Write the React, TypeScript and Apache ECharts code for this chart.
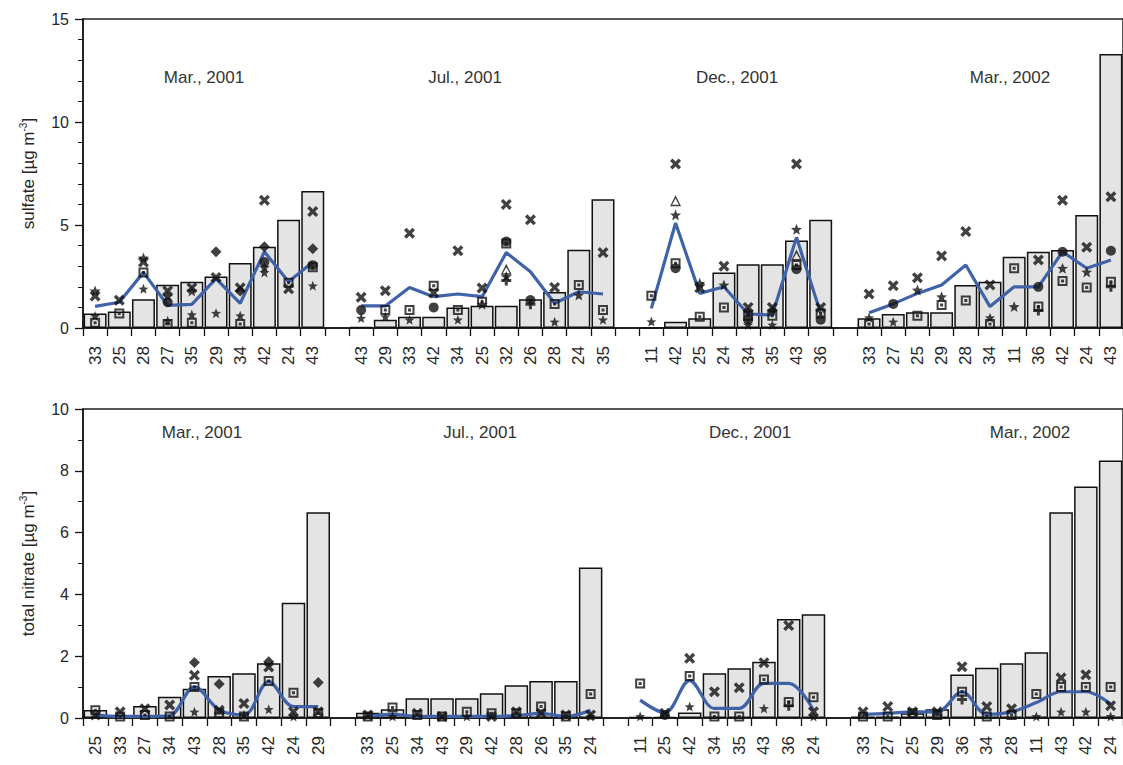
import React, { useEffect, useRef } from 'react';
import * as echarts from 'echarts';

const _ = null;

// Sampling periods (one block of sites per period)
const periods = ['Mar., 2001', 'Jul., 2001', 'Dec., 2001', 'Mar., 2002'];

// ---------------- sulfate ----------------
const sulfateSites = [
  [33, 25, 28, 27, 35, 29, 34, 42, 24, 43],
  [43, 29, 33, 42, 34, 25, 32, 26, 28, 24, 35],
  [11, 42, 25, 24, 34, 35, 43, 36],
  [33, 27, 25, 29, 28, 34, 11, 36, 42, 24, 43],
];
const sulfateObserved = [
  [0.7, 0.8, 1.4, 2.1, 2.25, 2.5, 3.15, 3.95, 5.25, 6.65],
  [0.05, 0.4, 0.55, 0.55, 1.0, 1.08, 1.08, 1.4, 1.75, 3.8, 6.25],
  [0, 0.3, 0.47, 2.7, 3.1, 3.1, 4.25, 5.25],
  [0.47, 0.68, 0.76, 0.76, 2.09, 2.25, 3.46, 3.7, 3.79, 5.49, 13.3],
];
const sulfateMean = [
  [1.05, 1.25, 2.7, 1.1, 1.15, 2.4, 1.2, 3.7, 2.25, 3.2],
  [1.07, 1.07, 1.97, 1.52, 1.65, 1.52, 3.66, 2.73, 1.2, 1.76, 1.65],
  [0.95, 5.1, 1.68, 2.0, 0.68, 0.63, 4.4, 0.71],
  [0.74, 1.17, 1.68, 2.09, 3.06, 1.04, 2.0, 2.0, 3.7, 2.9, 3.3],
];
const sulfateCross = [
  [1.55, 1.35, 3.2, 1.8, 1.95, 2.45, 1.95, 6.2, 1.9, 5.65],
  [1.49, 1.81, 4.6, 1.7, 3.75, 1.94, 6.0, 5.25, 1.97, _, 3.66],
  [_, 7.96, 1.95, 3.0, 1.0, 1.0, 7.96, 1.0],
  [1.65, 2.05, 2.44, 3.5, 4.68, 2.09, _, 3.3, 6.2, 3.92, 6.37],
];
const sulfateStar = [
  [1.8, _, 3.4, 1.55, 1.8, _, _, 2.95, _, _],
  [_, _, _, _, _, 1.15, 2.5, _, _, 1.6, _],
  [_, 5.49, 2.17, 2.09, 0.8, 0.85, 4.79, _],
  [_, _, 1.84, 1.52, _, _, 1.04, _, 2.9, 2.72, _],
];
const sulfateStarLow = [
  [0.58, _, 1.9, 0.35, 0.65, 0.72, 0.6, 2.7, _, 2.05],
  [0.48, 0.55, 0.4, _, 0.4, _, _, _, 0.3, _, 0.4],
  [0.31, _, _, _, 0.15, 0.15, _, _],
  [0.5, 0.3, _, _, _, 0.5, _, _, _, _, _],
];
const sulfateCircle = [
  [_, _, _, 1.25, _, _, _, 3.2, _, 3.05],
  [0.87, _, _, 1.0, _, _, 4.2, 1.36, _, _, _],
  [_, 2.9, _, _, 0.4, _, 2.85, 0.4],
  [_, 1.17, _, _, _, _, _, 2.0, 3.7, _, 3.75],
];
const sulfateDiamond = [
  [_, _, _, _, _, 3.7, 1.8, 3.95, _, 3.85],
  [_, _, _, _, _, _, _, _, _, _, _],
  [_, _, _, _, _, _, _, _],
  [_, _, _, _, _, _, _, _, _, _, _],
];
const sulfateSquareDot = [
  [0.25, 0.7, 2.7, 0.2, 0.25, _, 0.2, _, 2.2, 2.95],
  [_, 0.87, 0.87, 2.05, 0.87, 1.28, 4.1, _, 1.17, 2.09, 0.87],
  [1.57, 3.14, 0.55, 0.99, 0.6, 0.6, 3.06, 0.7],
  [0.2, _, 0.6, 1.12, 1.33, 0.2, 2.9, 1.04, 2.28, 1.97, 2.25],
];
const sulfateTriangle = [
  [_, _, _, _, _, _, _, _, _, _],
  [_, _, _, _, _, _, 2.85, _, _, _, _],
  [_, 6.18, _, _, _, _, 3.54, _],
  [_, _, _, _, _, _, _, _, _, _, _],
];
const sulfatePlus = [
  [_, _, _, _, _, _, _, _, _, _],
  [_, _, _, _, _, _, 2.3, 1.15, _, _, _],
  [_, _, _, _, _, _, _, _],
  [_, _, _, _, _, _, _, 0.85, _, _, 2.0],
];

// ---------------- total nitrate ----------------
const nitrateSites = [
  [25, 33, 27, 34, 43, 28, 35, 42, 24, 29],
  [33, 25, 34, 43, 29, 42, 28, 26, 35, 24],
  [11, 25, 42, 34, 35, 43, 36, 24],
  [33, 27, 25, 29, 36, 34, 28, 11, 43, 42, 24],
];
const nitrateObserved = [
  [0.26, 0.05, 0.39, 0.69, 0.95, 1.36, 1.45, 1.77, 3.73, 6.66],
  [0.17, 0.28, 0.64, 0.64, 0.64, 0.8, 1.06, 1.2, 1.2, 4.87],
  [0.03, 0.03, 0.18, 1.45, 1.61, 1.82, 3.2, 3.36],
  [0.05, 0.05, 0.15, 0.28, 1.41, 1.63, 1.77, 2.13, 6.66, 7.49, 8.33],
];
const nitrateMean = [
  [0.1, 0.05, 0.05, 0.08, 1.01, 0.26, 0.1, 1.18, 0.37, 0.37],
  [0.05, 0.12, 0.05, 0.05, 0.05, 0.05, 0.08, 0.15, 0.05, 0.25],
  [0.58, 0.17, 1.21, 0.31, 0.31, 1.12, 1.12, 0.26],
  [0.12, 0.15, 0.2, 0.2, 0.85, 0.12, 0.2, 0.5, 0.85, 0.85, 0.45],
];
const nitrateCross = [
  [0.1, 0.2, 0.3, 0.42, 1.38, 0.25, 0.47, 1.65, 0.2, 0.2],
  [0.1, _, 0.15, 0.05, _, 0.05, 0.2, 0.15, 0.1, 0.1],
  [_, 0.15, 1.93, 0.85, 0.98, 1.79, 2.99, 0.2],
  [0.2, 0.37, 0.2, 0.2, 1.66, 0.37, 0.3, _, 1.3, 1.4, 0.4],
];
const nitrateStarLow = [
  [_, _, _, _, 0.2, _, 0.1, 0.28, 0.05, _],
  [_, 0.05, _, _, 0.05, _, _, _, _, 0.05],
  [0.05, _, 0.37, _, _, 0.31, _, 0.05],
  [_, _, _, _, _, _, _, 0.05, 0.2, 0.2, 0.05],
];
const nitrateCircle = [
  [_, _, _, _, _, _, _, _, _, _],
  [_, _, _, _, _, _, _, _, _, _],
  [_, 0.1, _, _, _, _, _, _],
  [_, _, _, _, _, _, _, _, _, _, _],
];
const nitrateDiamond = [
  [_, _, _, _, 1.8, 1.1, _, 1.82, _, 1.15],
  [_, _, _, _, _, _, _, _, _, _],
  [_, _, _, _, _, _, _, _],
  [_, _, _, _, _, _, _, _, _, _, _],
];
const nitrateSquareDot = [
  [0.25, 0.05, 0.1, 0.05, 1.0, 0.15, 0.05, 1.2, 0.82, 0.15],
  [0.05, 0.34, 0.1, 0.05, 0.2, 0.15, 0.15, 0.37, 0.05, 0.78],
  [1.12, _, 1.36, 0.05, 0.05, 1.25, 0.52, 0.67],
  [0.05, 0.05, 0.15, 0.1, 0.85, 0.05, 0.1, 0.78, 1.0, 1.0, 1.0],
];
const nitratePlus = [
  [_, _, _, _, _, _, _, _, _, _],
  [_, _, _, _, _, _, _, _, _, _],
  [_, _, _, _, _, _, 0.4, _],
  [_, _, _, _, 0.6, _, _, _, _, _, _],
];

// ---------------- marker shapes ----------------
const CROSS = 'path://M0,2.2 L2.2,0 L5,2.8 L7.8,0 L10,2.2 L7.2,5 L10,7.8 L7.8,10 L5,7.2 L2.2,10 L0,7.8 L2.8,5 Z';
const STAR =
  'path://M5,0 L6.3,3.3 L9.76,3.45 L7.05,5.6 L7.94,9.05 L5,7.1 L2.06,9.05 L2.95,5.6 L0.24,3.45 L3.7,3.3 Z';
const SQUARE_DOT = 'path://M0,0 H10 V10 H0 Z M2,2 V8 H8 V2 Z M3.5,3.5 H6.5 V6.5 H3.5 Z';
const OPEN_TRIANGLE = 'path://M5,0 L10,9 L0,9 Z M5,2.8 L1.9,7.8 L8.1,7.8 Z';
const PLUS = 'path://M3.5,0 H6.5 V3.5 H10 V6.5 H6.5 V10 H3.5 V6.5 H0 V3.5 H3.5 Z';

const FONT = '"Liberation Sans", Arial, Helvetica, sans-serif';
const INK = '#111';
const TEXT = '#262626';

// One empty slot separates consecutive periods on the shared category axis.
function flatten<T>(groups: T[][], gap: T): T[] {
  const out: T[] = [];
  groups.forEach((g, i) => {
    if (i > 0) out.push(gap);
    out.push(...g);
  });
  return out;
}

function buildPanel(
  idx: number,
  bars: (number | null)[][],
  mean: (number | null)[][],
  smooth: boolean | number,
  markers: { data: (number | null)[][]; symbol: string; size: number }[]
) {
  const list: any[] = [
    {
      type: 'bar',
      xAxisIndex: idx,
      yAxisIndex: idx,
      data: flatten(bars, null),
      barCategoryGap: '5%',
      itemStyle: { color: '#e4e4e4', borderColor: INK, borderWidth: 1.5 },
      z: 2,
    },
    {
      type: 'line',
      xAxisIndex: idx,
      yAxisIndex: idx,
      data: flatten(mean, null),
      showSymbol: false,
      smooth,
      lineStyle: { color: '#4062a8', width: 3.2 },
      z: 3,
    },
  ];
  markers.forEach((m) => {
    list.push({
      type: 'scatter',
      xAxisIndex: idx,
      yAxisIndex: idx,
      data: flatten(m.data, null),
      symbol: m.symbol,
      symbolSize: m.size,
      itemStyle: { color: INK },
      z: 4,
    });
  });
  return list;
}

function xAxisFor(idx: number, sites: number[][]) {
  return {
    type: 'category',
    gridIndex: idx,
    data: flatten(sites.map((g) => g.map(String)), ''),
    boundaryGap: true,
    axisLine: { show: true, lineStyle: { color: INK, width: 1.5 } },
    axisTick: { show: true, interval: 0, length: 8, lineStyle: { color: INK, width: 1.3 } },
    axisLabel: { interval: 0, rotate: 90, fontSize: 17, margin: 18, color: TEXT, fontFamily: FONT },
    splitLine: { show: false },
  };
}

function yAxisFor(idx: number, max: number, interval: number, minorSplit: number, label: string) {
  return {
    type: 'value',
    gridIndex: idx,
    min: 0,
    max,
    interval,
    axisLine: { show: true, lineStyle: { color: INK, width: 1.5 } },
    axisTick: { show: true, length: 8, lineStyle: { color: INK, width: 1.3 } },
    minorTick: { show: true, splitNumber: minorSplit, length: 5, lineStyle: { color: INK, width: 1 } },
    splitLine: { show: false },
    minorSplitLine: { show: false },
    axisLabel: { fontSize: 16, margin: 14, color: TEXT, fontFamily: FONT },
    name: label + ' [µg m{sup|-3}]',
    nameLocation: 'middle',
    nameGap: 45,
    nameTextStyle: {
      fontSize: 17,
      color: TEXT,
      fontFamily: FONT,
      rich: {
        sup: { fontSize: 10, color: TEXT, fontFamily: FONT, verticalAlign: 'top', lineHeight: 20 },
      },
    },
  };
}

const titleX = [
  [204, 465, 737, 1010],
  [202, 480, 750, 1030],
];
const titleY = [77, 432];

export default function App() {
  const ref = useRef<HTMLDivElement>(null);

  useEffect(() => {
    if (!ref.current) return;
    const chart = echarts.init(ref.current, undefined, { renderer: 'svg' });

    const graphics: any[] = [];
    [0, 1].forEach((p) => {
      periods.forEach((t, i) => {
        graphics.push({
          type: 'text',
          x: titleX[p][i],
          y: titleY[p],
          style: {
            text: t,
            fill: '#333',
            font: `17px ${FONT}`,
            textAlign: 'center',
            textVerticalAlign: 'middle',
          },
        });
      });
    });

    chart.setOption({
      animation: false,
      textStyle: { fontFamily: FONT },
      grid: [
        { left: 83, top: 19, right: -5, height: 309, show: true, borderColor: '#222', borderWidth: 1.5 },
        { left: 83, top: 409, right: -5, height: 309, show: true, borderColor: '#222', borderWidth: 1.5 },
      ],
      xAxis: [xAxisFor(0, sulfateSites), xAxisFor(1, nitrateSites)],
      yAxis: [
        yAxisFor(0, 15, 5, 5, 'sulfate'),
        yAxisFor(1, 10, 2, 2, 'total nitrate'),
      ],
      graphic: graphics,
      series: [
        ...buildPanel(0, sulfateObserved, sulfateMean, false, [
          { data: sulfateSquareDot, symbol: SQUARE_DOT, size: 10 },
          { data: sulfateStarLow, symbol: STAR, size: 10 },
          { data: sulfateTriangle, symbol: OPEN_TRIANGLE, size: 11 },
          { data: sulfatePlus, symbol: PLUS, size: 10 },
          { data: sulfateCircle, symbol: 'circle', size: 10 },
          { data: sulfateDiamond, symbol: 'diamond', size: 11 },
          { data: sulfateStar, symbol: STAR, size: 11 },
          { data: sulfateCross, symbol: CROSS, size: 11 },
        ]),
        ...buildPanel(1, nitrateObserved, nitrateMean, 0.35, [
          { data: nitrateSquareDot, symbol: SQUARE_DOT, size: 10 },
          { data: nitrateStarLow, symbol: STAR, size: 10 },
          { data: nitratePlus, symbol: PLUS, size: 10 },
          { data: nitrateCircle, symbol: 'circle', size: 10 },
          { data: nitrateDiamond, symbol: 'diamond', size: 11 },
          { data: nitrateCross, symbol: CROSS, size: 11 },
        ]),
      ],
    });

    return () => chart.dispose();
  }, []);

  return (
    <div
      ref={ref}
      style={{ position: 'absolute', left: 0, top: 0, width: 1123, height: 765, background: '#fff' }}
    />
  );
}
